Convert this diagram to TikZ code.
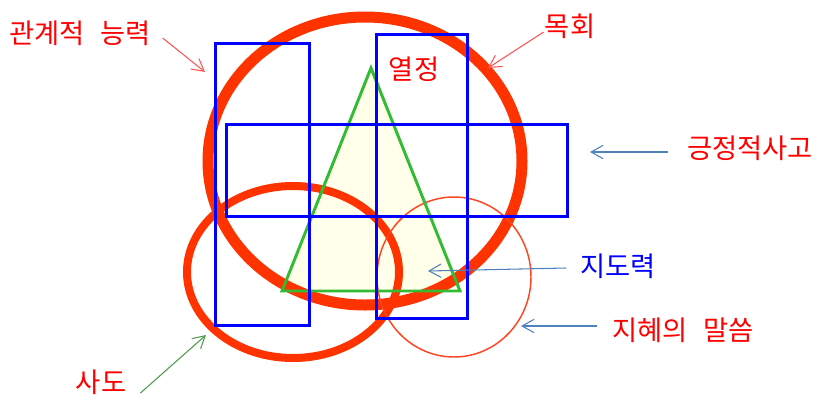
\documentclass[tikz,border=0pt]{standalone}
\usepackage{fontspec}
\newfontfamily\kor{Noto Sans CJK KR}
\usetikzlibrary{arrows.meta}
\definecolor{bigred}{HTML}{FF3300}
\definecolor{thinred}{HTML}{FF4422}
\definecolor{txtred}{HTML}{FF0000}
\definecolor{txtblue}{HTML}{0000FF}
\definecolor{rectblue}{HTML}{0000FF}
\definecolor{trigreen}{HTML}{33BB33}
\definecolor{trifill}{HTML}{FFFFEA}
\definecolor{arrred}{HTML}{FF5555}
\definecolor{arrblue}{HTML}{4F81BD}
\definecolor{arrgreen}{HTML}{4E9A4E}
\newcommand{\wsp}{\hspace{0.55em}}
\tikzset{
  lbl/.style={font=\kor\fontsize{20.5pt}{24pt}\selectfont, inner sep=0pt, text=txtred},
  lblblue/.style={lbl, text=txtblue},
  pointer/.style={line width=0.8pt, -{Straight Barb[length=9pt,width=10pt]}},
  bluerect/.style={draw=rectblue, line width=2.25pt},
  thickring/.style={draw=bigred},
}
\begin{document}
\begin{tikzpicture}[x=0.75pt,y=-0.75pt]
\useasboundingbox (0,0) rectangle (817,397);
% triangle fill
\coordinate (apex) at (371,68);
\coordinate (bl) at (282,291);
\coordinate (br) at (460,291);
\fill[trifill] (apex) -- (bl) -- (br) -- cycle;
% red ellipses
\draw[thickring, line width=8.25pt] (365,161) ellipse [x radius=117.75pt, y radius=108pt];
\draw[thickring, line width=6pt] (293,272) ellipse [x radius=79.5pt, y radius=64.5pt];
\draw[thinred, line width=1.1pt] (454,277) ellipse [x radius=57.75pt, y radius=60pt];
% triangle outline
\draw[trigreen, line width=2.2pt, line join=miter] (apex) -- (bl) -- (br) -- cycle;
% blue rectangles
\draw[bluerect] (215.5,43.5) rectangle (309.5,325.5);
\draw[bluerect] (376.5,34.5) rectangle (467.5,318.5);
\draw[bluerect] (226.5,124.5) rectangle (567.5,216.5);
% labels
\node[lbl] (gwan) at (80,33) {관계적\wsp 능력};
\node[lbl] (mok) at (570,26) {목회};
\node[lbl] (yeol) at (414,69) {열정};
\node[lbl] (geung) at (750,148) {긍정적사고};
\node[lblblue] (jido) at (618,266) {지도력};
\node[lbl] (jihye) at (683,330) {지혜의\wsp 말씀};
\node[lbl] (sado) at (101,382) {사도};
% arrow tips
\coordinate (tgwan) at (205,72);
\coordinate (tmok) at (488,68);
\coordinate (tgeung) at (590,152);
\coordinate (tjido) at (428,271);
\coordinate (tjihye) at (521,326);
\coordinate (tsado) at (206,335);
\draw[pointer, arrred] ([shift={(12,5)}]gwan.east) -- (tgwan);
\draw[pointer, arrred] ([shift={(-1,6)}]mok.west) -- (tmok);
\draw[pointer, arrblue] ([shift={(-19,4)}]geung.west) -- (tgeung);
\draw[pointer, arrblue] ([shift={(-14,2)}]jido.west) -- (tjido);
\draw[pointer, arrblue] ([shift={(-15,-4)}]jihye.west) -- (tjihye);
\draw[pointer, arrgreen] ([shift={(14,11)}]sado.east) -- (tsado);
\end{tikzpicture}
\end{document}
